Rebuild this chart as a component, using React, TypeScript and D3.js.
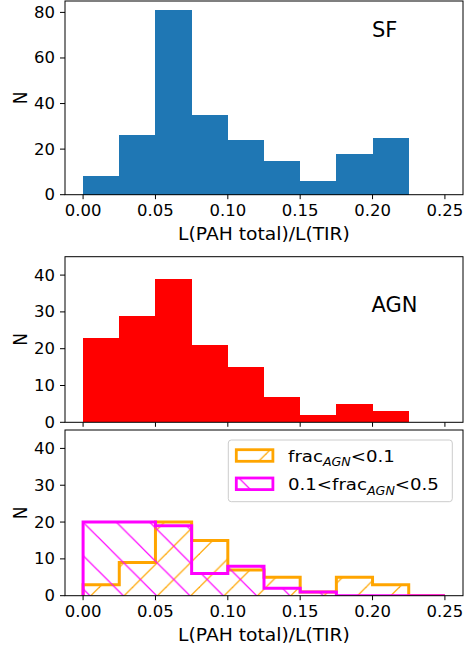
import React from "react";
import * as d3 from "d3";

const BIN_EDGES = [0, 0.025, 0.05, 0.075, 0.1, 0.125, 0.15, 0.175, 0.2, 0.225, 0.25];
const SF_COUNTS = [8, 26, 81, 35, 24, 15, 6, 18, 25, 0];
const AGN_COUNTS = [23, 29, 39, 21, 15, 7, 2, 5, 3, 0];
const LOW_COUNTS = [3, 9, 20, 15, 7, 5, 1, 5, 3, 0];
const MID_COUNTS = [20, 20, 19, 6, 8, 2, 1, 0, 0, 0];
const X_TICKS = [0, 0.05, 0.1, 0.15, 0.2, 0.25];
const Y_TICKS_TOP = [0, 20, 40, 60, 80];
const Y_TICKS_LOW = [0, 10, 20, 30, 40];
const X_LABEL = "L(PAH total)/L(TIR)";

const W = 464;
const H = 649;
const LEFT = 65;
const RIGHT = 463;
const FONT = "DejaVu Sans, sans-serif";
const SX = 1.1;
const HATCH = 33.33;

const x = d3.scaleLinear().domain([-0.0125, 0.2625]).range([LEFT, RIGHT]);

const panels = [
  { top: 1, bottom: 194.7, ymax: 85 },
  { top: 256.7, bottom: 422.3, ymax: 45 },
  { top: 430, bottom: 595.7, ymax: 45 },
];

function T({ x, y, sx = SX, rotate, children, ...rest }: any) {
  return (
    <g transform={`translate(${x},${y}) scale(${sx},1)${rotate ? ` rotate(${rotate})` : ""}`}>
      <text fontFamily={FONT} fill="#000" {...rest}>
        {children}
      </text>
    </g>
  );
}

function Axes({ p, yTicks, showXLabels, showXTitle, idx }: any) {
  const y = d3.scaleLinear().domain([0, p.ymax]).range([p.bottom, p.top]);
  const fmt = d3.format(".2f");
  return (
    <g>
      <rect x={LEFT} y={p.top} width={RIGHT - LEFT} height={p.bottom - p.top} fill="none" stroke="#000" strokeWidth={1} />
      {X_TICKS.map((t) => (
        <g key={"x" + t}>
          <line x1={x(t)} x2={x(t)} y1={p.bottom} y2={p.bottom + 4.5} stroke="#000" strokeWidth={1} />
          {showXLabels && (
            <T x={x(t)} y={p.bottom + 21.5} fontSize={15} textAnchor="middle">
              {fmt(t)}
            </T>
          )}
        </g>
      ))}
      {yTicks.map((t: number) => (
        <g key={"y" + t}>
          <line x1={LEFT - 5} x2={LEFT} y1={y(t)} y2={y(t)} stroke="#000" strokeWidth={1} />
          <T x={55} y={y(t) + 5.5} fontSize={15} textAnchor="end">
            {t}
          </T>
        </g>
      ))}
      <T x={20} y={(p.top + p.bottom) / 2} fontSize={17} textAnchor="middle" dominantBaseline="central" rotate={-90}>
        N
      </T>
      {showXTitle && (
        <T x={(LEFT + RIGHT) / 2} y={p.bottom + 45.3} fontSize={17} textAnchor="middle">
          {X_LABEL}
        </T>
      )}
    </g>
  );
}

function Bars({ p, counts, color }: any) {
  const y = d3.scaleLinear().domain([0, p.ymax]).range([p.bottom, p.top]);
  return (
    <g>
      {counts.map((c: number, i: number) =>
        c > 0 ? (
          <rect
            key={i}
            x={x(BIN_EDGES[i])}
            width={x(BIN_EDGES[i + 1]) - x(BIN_EDGES[i])}
            y={y(c)}
            height={y(0) - y(c)}
            fill={color}
            shapeRendering="crispEdges"
          />
        ) : null
      )}
    </g>
  );
}

function stepPoints(counts: number[]) {
  const pts: [number, number][] = [[BIN_EDGES[0], 0]];
  counts.forEach((c, i) => {
    pts.push([BIN_EDGES[i], c]);
    pts.push([BIN_EDGES[i + 1], c]);
  });
  pts.push([BIN_EDGES[BIN_EDGES.length - 1], 0]);
  return pts;
}

function StepHist({ p, counts, color, pattern }: any) {
  const y = d3.scaleLinear().domain([0, p.ymax]).range([p.bottom, p.top]);
  const line = d3
    .line<[number, number]>()
    .x((d) => x(d[0]))
    .y((d) => y(d[1]));
  const pts = stepPoints(counts);
  return (
    <g clipPath="url(#clipBottom)">
      <path d={line(pts) + "Z"} fill={`url(#${pattern})`} stroke="none" />
      <path d={line(pts) || ""} fill="none" stroke={color} strokeWidth={3} strokeLinejoin="miter" />
    </g>
  );
}

function HatchPattern({ id, color, dir, phase }: any) {
  const s = HATCH;
  const lines = [];
  for (let k = -2; k <= 2; k++) {
    const c = phase + k * s;
    if (dir === "/") {
      // x + y = c
      lines.push(<line key={k} x1={c + s} y1={-s} x2={c - 2 * s} y2={2 * s} stroke={color} strokeWidth={1.2} />);
    } else {
      // x - y = c
      lines.push(<line key={k} x1={c - s} y1={-s} x2={c + 2 * s} y2={2 * s} stroke={color} strokeWidth={1.2} />);
    }
  }
  return (
    <pattern id={id} patternUnits="userSpaceOnUse" x={0} y={0} width={s} height={s}>
      {lines}
    </pattern>
  );
}

export default function App() {
  const pB = panels[2];
  return (
    <svg width={W} height={H} style={{ position: "absolute", left: 0, top: 0, background: "#fff" }}>
      <defs>
        <HatchPattern id="hatchOrange" color="#FFA500" dir="/" phase={20} />
        <HatchPattern id="hatchMagenta" color="#FF00FF" dir="\\" phase={27.5} />
        <clipPath id="clipBottom">
          <rect x={LEFT} y={pB.top} width={RIGHT - LEFT} height={pB.bottom - pB.top} />
        </clipPath>
      </defs>
      <rect x={0} y={0} width={W} height={H} fill="#fff" />

      {/* Panel 1: SF */}
      <Bars p={panels[0]} counts={SF_COUNTS} color="#1f77b4" />
      <Axes p={panels[0]} yTicks={Y_TICKS_TOP} showXLabels showXTitle idx={0} />
      <T x={372} y={36.7} sx={1} fontSize={21}>
        SF
      </T>

      {/* Panel 2: AGN */}
      <Bars p={panels[1]} counts={AGN_COUNTS} color="#ff0000" />
      <Axes p={panels[1]} yTicks={Y_TICKS_LOW} showXLabels={false} showXTitle={false} idx={1} />
      <T x={371.5} y={312.3} sx={1} fontSize={21}>
        AGN
      </T>

      {/* Panel 3: AGN fractions */}
      <StepHist p={pB} counts={LOW_COUNTS} color="#FFA500" pattern="hatchOrange" />
      <StepHist p={pB} counts={MID_COUNTS} color="#FF00FF" pattern="hatchMagenta" />
      <Axes p={pB} yTicks={Y_TICKS_LOW} showXLabels showXTitle idx={2} />

      {/* Legend */}
      <g>
        <rect x={228.3} y={440} width={224} height={61.7} rx={3} fill="#fff" fillOpacity={0.8} stroke="#cccccc" strokeWidth={1} />
        <rect x={236.3} y={449.7} width={36.6} height={11.6} fill="url(#hatchOrange)" stroke="#FFA500" strokeWidth={2.8} />
        <rect x={236.3} y={478} width={36.6} height={11.6} fill="url(#hatchMagenta)" stroke="#FF00FF" strokeWidth={2.8} />
        <T x={288} y={461.7} fontSize={16.5}>
          frac
          <tspan fontSize={11.5} fontStyle="italic" dy={4.5}>
            AGN
          </tspan>
          <tspan dy={-4.5}>{"<0.1"}</tspan>
        </T>
        <T x={288} y={490} fontSize={16.5}>
          {"0.1<frac"}
          <tspan fontSize={11.5} fontStyle="italic" dy={4.5}>
            AGN
          </tspan>
          <tspan dy={-4.5}>{"<0.5"}</tspan>
        </T>
      </g>
    </svg>
  );
}
